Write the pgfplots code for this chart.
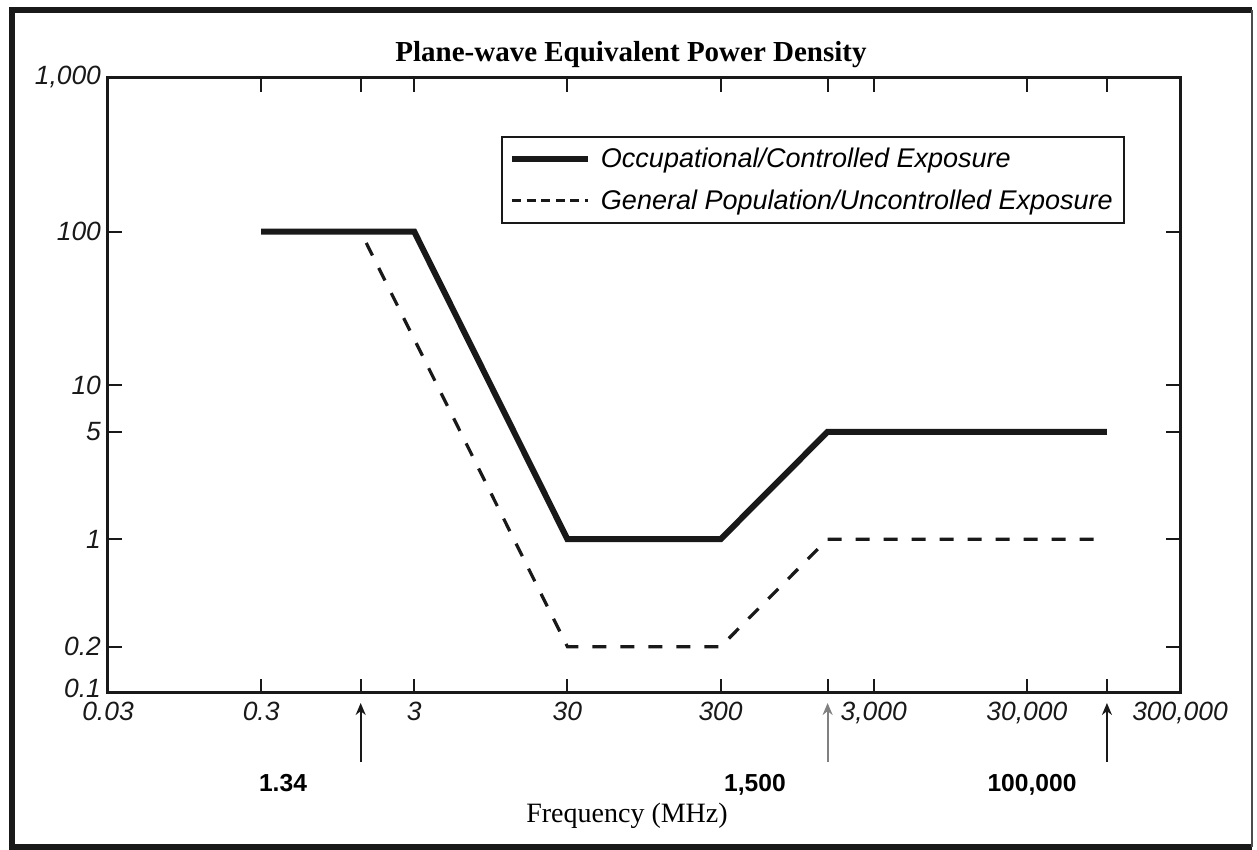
\documentclass[border=0pt]{standalone}
\usepackage{pgfplots}
\pgfplotsset{compat=1.18}
\usepackage{fontspec}
\setmainfont{Liberation Serif}
\setsansfont{Liberation Sans}
\usetikzlibrary{arrows.meta}

\begin{document}
\begin{tikzpicture}
\useasboundingbox (0pt,0pt) rectangle (628.5pt,425pt);
\fill[white] (0pt,0pt) rectangle (628.5pt,425pt);
\draw[line width=3pt,black!90] (626pt,1.6pt) -- (6pt,1.6pt) -- (6pt,420pt) -- (626pt,420pt);
\draw[line width=1.2pt,black!70] (626pt,420pt) -- (626pt,1.6pt);

\begin{axis}[
  at={(54pt,78.5pt)}, anchor=south west,
  scale only axis, width=536pt, height=307.5pt,
  xmode=log, ymode=log,
  xmin=0.03, xmax=300000, ymin=0.1, ymax=1000,
  axis line style={line width=1.5pt, black!90},
  xtick={0.03,0.3,3,30,300,3000,30000,300000},
  xticklabels={\raisebox{-4pt}{0.03},0.3,3,30,300,{3,000},{30,000},{300,000}},
  extra x ticks={1.34,1500,100000},
  extra x tick labels={\empty,\empty,\empty},
  extra x tick style={log identify minor tick positions=false},
  ytick={0.1,0.2,1,5,10,100,1000},
  yticklabels={\raisebox{5pt}{0.1},0.2,1,5,10,100,\raisebox{3pt}{1,000}},
  minor xtick={}, minor ytick={},
  minor tick length=0pt,
  tick style={line width=1pt, black!90},
  major tick length=7pt,
  tick label style={font=\sffamily\itshape\fontsize{13.2}{15}\selectfont, black!90, /pgf/number format/assume math mode=true},
  xticklabel style={yshift=-1pt},
  clip=false,
  legend style={at={(0.3666,0.9057)}, anchor=north west, draw=black!90, line width=1pt,
    font=\sffamily\itshape\fontsize{13.5}{15}\selectfont, inner sep=3.5pt, row sep=5.5pt,
    nodes={inner sep=2pt}, cells={anchor=west}},
  legend image code/.code={\draw[#1] (0pt,0pt) -- (38pt,0pt); \path (41pt,0pt);},
]
\addlegendimage{line width=3pt, black!90}
\addlegendentry{Occupational/Controlled Exposure}
\addlegendimage{line width=1.6pt, black!90, dash pattern=on 4.5pt off 2.8pt}
\addlegendentry{General Population/Uncontrolled Exposure}

\addplot[line width=1.6pt, black!90, dash pattern=on 7pt off 7pt, forget plot]
  coordinates {(0.3,100)(1.34,100)(30,0.2)(300,0.2)(1500,1)(100000,1)};
\addplot[line width=3pt, black!90, line join=miter, forget plot]
  coordinates {(0.3,100)(3,100)(30,1)(300,1)(1500,5)(100000,5)};

\draw[line width=1pt,black!90,-{Stealth[length=6pt,width=5pt]}] ([yshift=-34.5pt]axis cs:1.34,0.1) -- ([yshift=-5pt]axis cs:1.34,0.1);
\draw[line width=1pt,black!50,-{Stealth[length=6pt,width=5pt]}] ([yshift=-34.5pt]axis cs:1500,0.1) -- ([yshift=-5pt]axis cs:1500,0.1);
\draw[line width=1pt,black!90,-{Stealth[length=6pt,width=5pt]}] ([yshift=-34.5pt]axis cs:100000,0.1) -- ([yshift=-5pt]axis cs:100000,0.1);
\end{axis}

\node[font=\sffamily\bfseries\fontsize{12.3}{14}\selectfont, anchor=base] at (141.5pt,29pt) {1.34};
\node[font=\sffamily\bfseries\fontsize{12.3}{14}\selectfont, anchor=base] at (377.5pt,29pt) {1,500};
\node[font=\sffamily\bfseries\fontsize{12.3}{14}\selectfont, anchor=base] at (516pt,29pt) {100,000};
\node[font=\fontsize{14}{16}\selectfont, anchor=base] at (313.5pt,13.5pt) {Frequency (MHz)};
\node[font=\bfseries\fontsize{14.5}{17}\selectfont, anchor=base] at (315.5pt,394pt) {Plane-wave Equivalent Power Density};
\end{tikzpicture}
\end{document}
